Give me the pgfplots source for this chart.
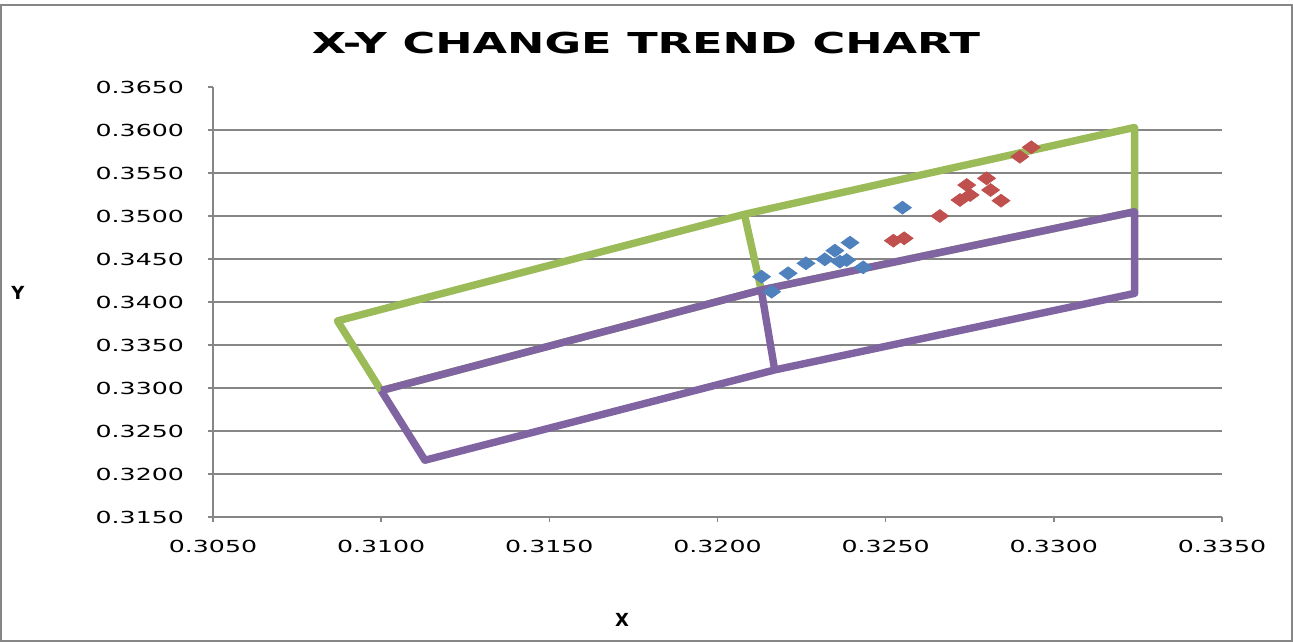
\documentclass[border=0pt]{standalone}
\usepackage{pgfplots}
\pgfplotsset{compat=1.18}
\usepackage{fontspec}
\setmainfont{DejaVu Sans}
\newfontfamily\tickfont{DejaVu Sans}[FakeStretch=1.52]
\newfontfamily\titlefont{DejaVu Sans}[FakeStretch=1.55]

\definecolor{xlgreen}{HTML}{9BBB59}
\definecolor{xlpurple}{HTML}{8064A2}
\definecolor{xlblue}{HTML}{4F81BD}
\definecolor{xlred}{HTML}{C0504D}
\definecolor{xlgrid}{HTML}{868686}

\begin{document}
\begin{tikzpicture}
\useasboundingbox (0,0) rectangle (646.5pt,321pt);
\draw[xlgrid, line width=0.8pt] (0.5pt,0.5pt) rectangle (646pt,318.5pt);

\node[font=\titlefont\bfseries\fontsize{14.4}{16}\selectfont] at (323pt,299.5pt) {X-Y CHANGE TREND CHART};
\node[font=\bfseries\fontsize{9}{10}\selectfont] at (9pt,174.5pt) {Y};
\node[font=\bfseries\fontsize{9}{10}\selectfont] at (311pt,11pt) {X};

\begin{axis}[
    at={(106.5pt,62.5pt)}, anchor=south west,
    scale only axis,
    width=504.5pt, height=215pt,
    xmin=0.3050, xmax=0.3350,
    ymin=0.3150, ymax=0.3650,
    xtick={0.305,0.310,0.315,0.320,0.325,0.330,0.335},
    ytick={0.315,0.320,0.325,0.330,0.335,0.340,0.345,0.350,0.355,0.360,0.365},
    scaled ticks=false,
    axis lines=left,
    axis line style={-, xlgrid, line width=0.8pt},
    tick align=outside,
    major tick length=2.5pt,
    tick style={xlgrid, line width=0.8pt},
    extra y ticks={0.320,0.325,0.330,0.335,0.340,0.345,0.350,0.355,0.360},
    extra y tick labels={},
    extra y tick style={grid=major, major tick length=0pt},
    grid style={xlgrid, line width=0.55pt},
    /pgf/number format/.cd, fixed, fixed zerofill, precision=4, assume math mode=true,
    /pgfplots/.cd,
    tick label style={font=\tickfont\fontsize{8.3}{10}\selectfont},
    yticklabel style={xshift=-8.5pt},
    xticklabel style={yshift=-5.5pt},
    clip=false,
]
% green quadrangle
\addplot[xlgreen, line width=3.7pt, line join=round] coordinates {
    (0.3100,0.3297) (0.3087,0.3378) (0.3208,0.3502) (0.3324,0.3603) (0.3324,0.3505)
    (0.3213,0.3414) (0.3100,0.3297)};
\addplot[xlgreen, line width=3.7pt, line join=round] coordinates {
    (0.3208,0.3502) (0.3213,0.3414)};
% purple quadrangle
\addplot[xlpurple, line width=3.7pt, line join=round] coordinates {
    (0.3100,0.3297) (0.3213,0.3414) (0.3324,0.3505) (0.3324,0.3410)
    (0.3217,0.3321) (0.3113,0.3216) (0.3100,0.3297)};
\addplot[xlpurple, line width=3.7pt, line join=round] coordinates {
    (0.3213,0.3414) (0.3217,0.3321)};
% measured points
\addplot[only marks, mark=diamond*, mark size=3.2pt, color=xlblue,
    mark options={xscale=1.85, fill=xlblue, draw=xlblue}] coordinates {
    (0.32131,0.34294) (0.32161,0.34120) (0.32210,0.34334) (0.32263,0.34450)
    (0.32319,0.34496) (0.32349,0.34597) (0.32364,0.34469) (0.32384,0.34488)
    (0.32394,0.34690) (0.32433,0.34403) (0.32550,0.35097)};
\addplot[only marks, mark=diamond*, mark size=3.2pt, color=xlred,
    mark options={xscale=1.85, fill=xlred, draw=xlred}] coordinates {
    (0.32523,0.34713) (0.32555,0.34741) (0.32661,0.35000) (0.32721,0.35186)
    (0.32751,0.35244) (0.32741,0.35360) (0.32800,0.35438) (0.32812,0.35302)
    (0.32843,0.35178) (0.32899,0.35690) (0.32933,0.35799)};
\end{axis}
\end{tikzpicture}
\end{document}
